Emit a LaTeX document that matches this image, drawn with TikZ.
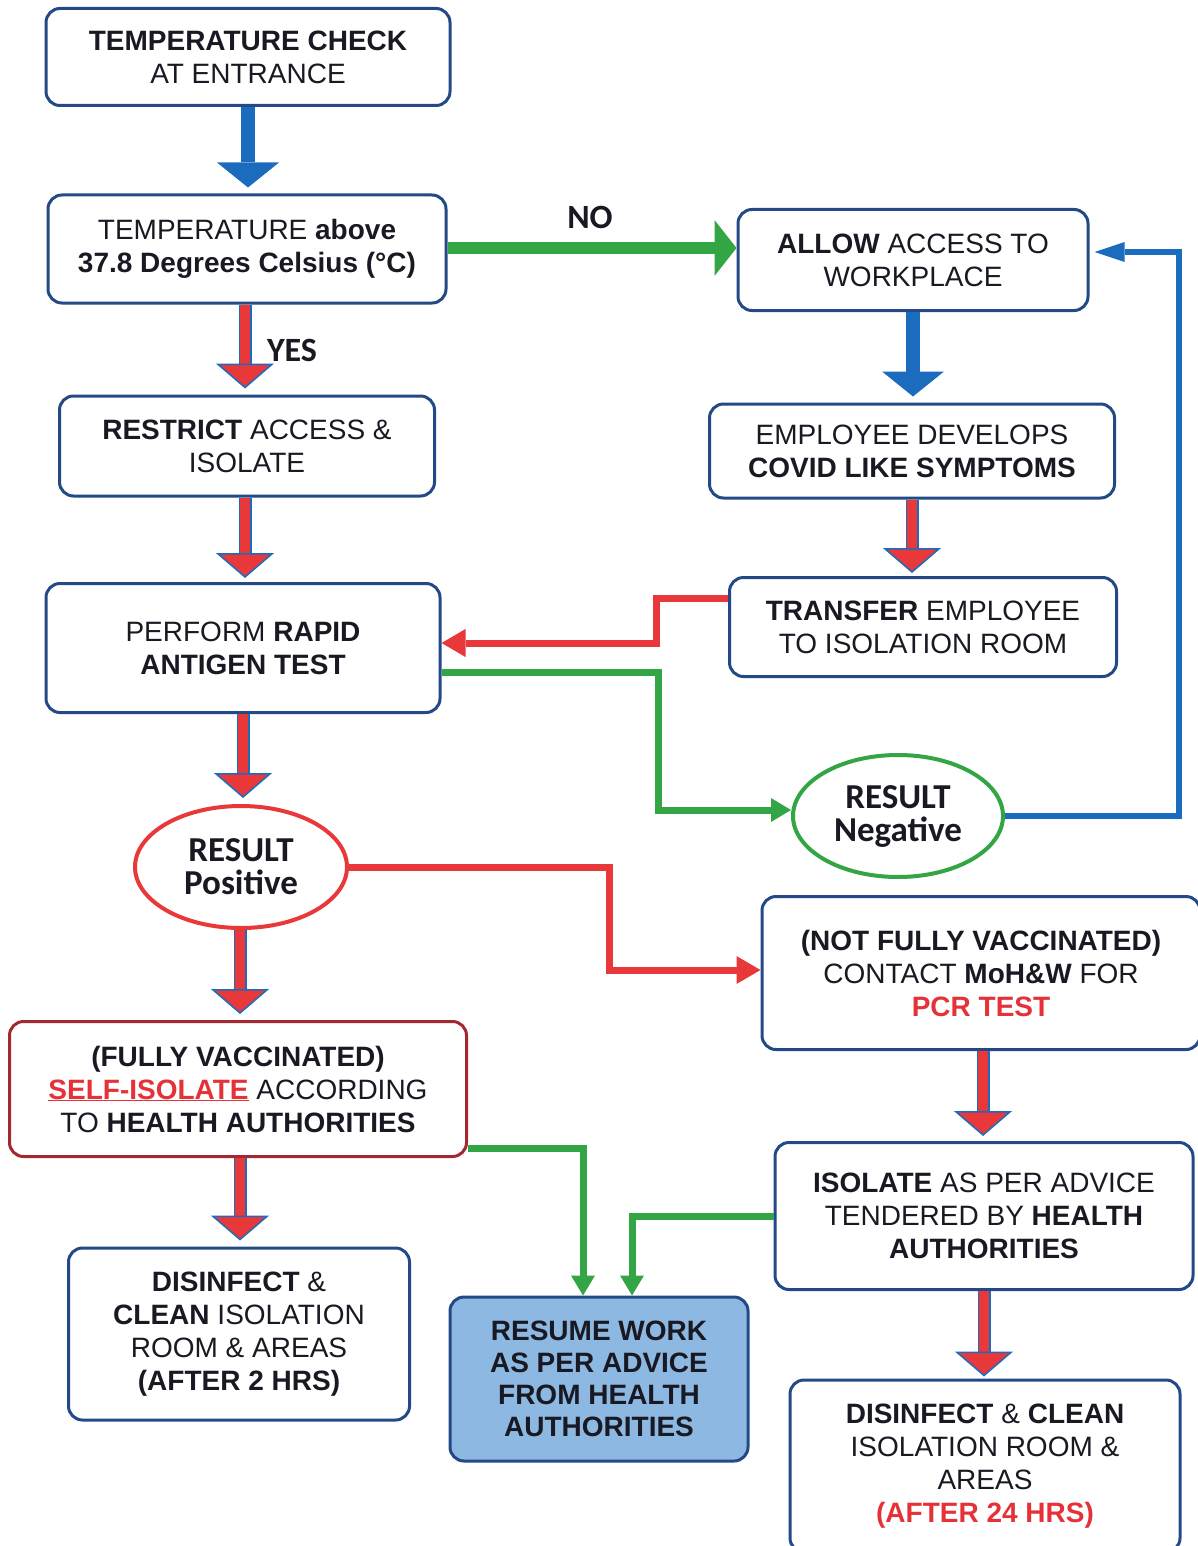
\documentclass[tikz,border=0pt]{standalone}
\usepackage{fontspec}
\setmainfont{Liberation Sans}
\newfontfamily\calib{Carlito}
\usetikzlibrary{arrows.meta,shapes.geometric}
\definecolor{boxblue}{RGB}{35,74,134}
\definecolor{arrowblue}{RGB}{27,108,190}
\definecolor{arrowred}{RGB}{232,56,58}
\definecolor{arrowgreen}{RGB}{52,165,68}
\definecolor{txtred}{RGB}{228,50,56}
\definecolor{darkred}{RGB}{163,40,47}
\definecolor{resumefill}{RGB}{141,184,226}
\definecolor{ink}{RGB}{25,25,35}
\begin{document}
\begin{tikzpicture}[x=1pt,y=-1pt]
  \tikzstyle{box}=[draw=boxblue,line width=3pt,rounded corners=14pt,align=center,
                   inner sep=0pt,text=ink,font=\fontsize{28}{33}\selectfont]
  \tikzstyle{result}=[ellipse,line width=4pt,inner sep=0pt,align=center,text=ink,
                      font=\calib\bfseries\fontsize{35}{33}\selectfont]
  \tikzstyle{answer}=[text=ink,font=\calib\bfseries\fontsize{34}{34}\selectfont]
  \tikzstyle{blueblock}=[line width=14pt,arrowblue,
                         -{Triangle[width=62pt,length=25pt,line width=0pt]}]
  \tikzstyle{redblock}=[line width=10pt,arrowred,
                        -{Triangle[width=58pt,length=25pt,line width=1.5pt,color=arrowblue,fill=arrowred]},
                        preaction={draw=arrowblue,line width=13pt,arrows=-,shorten >=14pt}]
  \tikzstyle{greenbig}=[line width=12pt,arrowgreen,
                        -{Triangle[width=56pt,length=22pt,line width=0pt]}]
  \tikzstyle{redline}=[line width=7pt,arrowred,
                       -{Triangle[width=28pt,length=24pt,line width=0pt]}]
  \tikzstyle{greenline}=[line width=7pt,arrowgreen,
                         -{Triangle[width=24pt,length=20pt,line width=0pt]}]
  \tikzstyle{blueline}=[line width=6pt,arrowblue,
                        -{Triangle[width=20pt,length=30pt,line width=0pt]}]
  \useasboundingbox (0,0) rectangle (1198,1546);

  % left column
  \node[box,minimum width=404pt,minimum height=97pt] (tcheck) at (248,57)
    {\textbf{TEMPERATURE CHECK}\\AT ENTRANCE};
  \node[box,minimum width=398pt,minimum height=108pt] (tabove) at (247,249)
    {TEMPERATURE \textbf{above}\\\textbf{37.8 Degrees Celsius (°C)}};
  \node[box,minimum width=375pt,minimum height=100pt] (restrict) at (247,446)
    {\textbf{RESTRICT} ACCESS \&\\ISOLATE};
  \node[box,minimum width=394pt,minimum height=129pt] (rapid) at (243,648)
    {PERFORM \textbf{RAPID}\\\textbf{ANTIGEN TEST}};
  \node[result,draw=arrowred,minimum width=212pt,minimum height=122pt] (pos) at (241,867)
    {RESULT\\Positive};
  \node[box,draw=darkred,minimum width=457pt,minimum height=135pt] (selfiso) at (238,1089)
    {\textbf{(FULLY VACCINATED)}\\\textcolor{txtred}{\textbf{\underline{SELF-ISOLATE}}} ACCORDING\\TO \textbf{HEALTH AUTHORITIES}};
  \node[box,minimum width=341pt,minimum height=172pt] (dis1) at (239,1334)
    {\textbf{DISINFECT} \&\\\textbf{CLEAN} ISOLATION\\ROOM \& AREAS\\\textbf{(AFTER 2 HRS)}};
  \node[box,fill=resumefill,minimum width=298pt,minimum height=164pt,
        font=\bfseries\fontsize{28}{32}\selectfont] (resume) at (599,1379)
    {RESUME WORK\\AS PER ADVICE\\FROM HEALTH\\AUTHORITIES};

  % right column
  \node[box,minimum width=350pt,minimum height=101pt] (allow) at (913,260)
    {\textbf{ALLOW} ACCESS TO\\WORKPLACE};
  \node[box,minimum width=405pt,minimum height=94pt] (develops) at (912,451)
    {EMPLOYEE DEVELOPS\\\textbf{COVID LIKE SYMPTOMS}};
  \node[box,minimum width=387pt,minimum height=99pt] (transfer) at (923,627)
    {\textbf{TRANSFER} EMPLOYEE\\TO ISOLATION ROOM};
  \node[result,draw=arrowgreen,minimum width=210pt,minimum height=122pt] (neg) at (898,816)
    {RESULT\\Negative};
  \node[box,minimum width=438pt,minimum height=153pt] (notfully) at (981,973)
    {\textbf{(NOT FULLY VACCINATED)}\\CONTACT \textbf{MoH\&W} FOR\\\textcolor{txtred}{\textbf{PCR TEST}}};
  \node[box,minimum width=418pt,minimum height=147pt] (isolate) at (984,1216)
    {\textbf{ISOLATE} AS PER ADVICE\\TENDERED BY \textbf{HEALTH}\\\textbf{AUTHORITIES}};
  \node[box,minimum width=390pt,minimum height=172pt] (dis2) at (985,1466)
    {\textbf{DISINFECT} \& \textbf{CLEAN}\\ISOLATION ROOM \&\\AREAS\\\textcolor{txtred}{\textbf{(AFTER 24 HRS)}}};

  % labels
  \node[answer] (yes) at (292,350) {YES};
  \node[answer] (no) at (590,217) {NO};

  % straight down arrows
  \draw[blueblock,shorten >=6pt] (tcheck.south) -- (tcheck.south |- tabove.north);
  \draw[redblock,shorten >=6pt] ([xshift=-2pt]tabove.south) -- ([xshift=-2pt]tabove.south |- restrict.north);
  \draw[redblock,shorten >=4pt] ([xshift=-2pt]restrict.south) -- ([xshift=-2pt]restrict.south |- rapid.north);
  \draw[redblock,shorten >=6pt] (rapid.south) -- (rapid.south |- pos.north);
  \draw[redblock,shorten >=6pt] ([xshift=-1pt]pos.south) -- ([xshift=-1pt]pos.south |- selfiso.north);
  \draw[redblock,shorten >=6pt] ([xshift=2pt]selfiso.south) -- ([xshift=2pt]selfiso.south |- dis1.north);
  \draw[blueblock,shorten >=6pt] (allow.south) -- (allow.south |- develops.north);
  \draw[redblock,shorten >=3pt] (develops.south) -- (develops.south |- transfer.north);
  \draw[redblock,shorten >=5pt] ([xshift=2pt]notfully.south) -- ([xshift=2pt]notfully.south |- isolate.north);
  \draw[redblock,shorten >=2pt] (isolate.south) -- (isolate.south |- dis2.north);

  % elbow connectors
  \draw[greenbig] ([yshift=1pt]tabove.east) coordinate (n0) -- (n0 -| allow.west);
  \draw[redline] ([yshift=29pt]transfer.west) -- ++(-72,0) |- ([yshift=5pt]rapid.east);
  \draw[greenline] ([yshift=-24pt]rapid.east) -- ++(217,0) |- ([yshift=6pt]neg.west);
  \draw[blueline,line join=miter] (neg.east) -- ++(174,0) |- ([yshift=8pt,xshift=5pt]allow.east);
  \draw[redline] (pos.east) -- ++(260,0) |- ([yshift=3pt]notfully.west);
  \draw[greenline] ([yshift=10pt]selfiso.south east) -| ([xshift=-16pt]resume.north);
  \draw[greenline] (isolate.west) -| ([xshift=33pt]resume.north);
\end{tikzpicture}
\end{document}
